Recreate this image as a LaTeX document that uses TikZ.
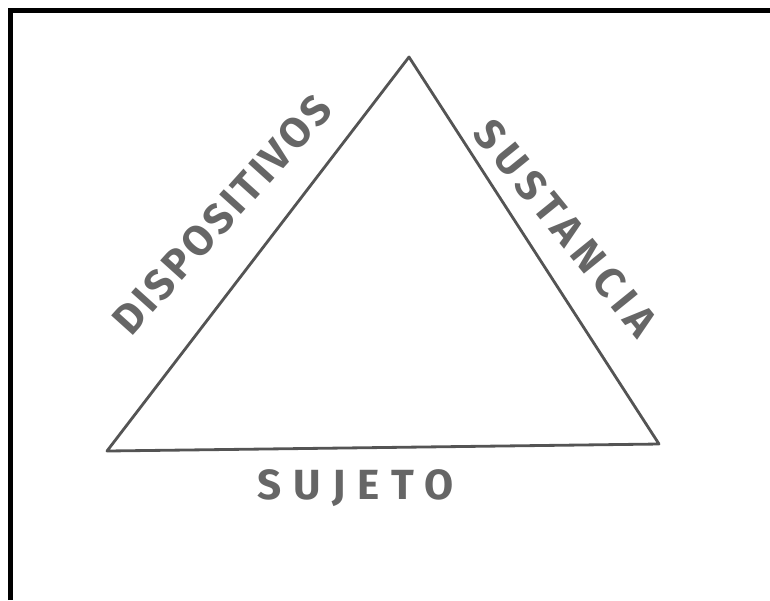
\documentclass[tikz,border=0pt]{standalone}
\usepackage{fontspec}
\usepackage{xcolor}
\usepackage{tikz}
\usetikzlibrary{positioning, calc}
\newfontfamily\handfont[LetterSpace=8]{Fira Sans}
\newfontfamily\handwide[LetterSpace=16]{Fira Sans}
\newfontfamily\handwider[LetterSpace=28]{Fira Sans}
\definecolor{pencil}{gray}{0.4}
\definecolor{graphite}{gray}{0.33}

\begin{document}
\begin{tikzpicture}[
    x=0.02cm, y=-0.02cm,
    frame/.style={line width=0.1cm, black, line join=miter},
    edge/.style={draw=graphite, line width=1.6pt, line join=round},
    word/.style={text=pencil, font=\fontsize{24}{28}\selectfont\bfseries, inner sep=0pt}
]
\useasboundingbox (0,0) rectangle (770,600);

\draw[frame] (10.5,600) -- (10.5,10.5) -- (770,10.5);

\coordinate (apex) at (409,57);
\coordinate (left) at (107,451);
\coordinate (right) at (659,444);

\draw[edge] (apex) -- (left) -- (right) -- cycle;

\node[word, rotate=48] (dispositivos) at (222,215) {\handfont DISPOSITIVOS};
\node[word, rotate=-51] (sustancia) at (566,228) {\handwide SUSTANCIA};
\node[word] (sujeto) at (356,488) {\handwider SUJETO};

\end{tikzpicture}
\end{document}
